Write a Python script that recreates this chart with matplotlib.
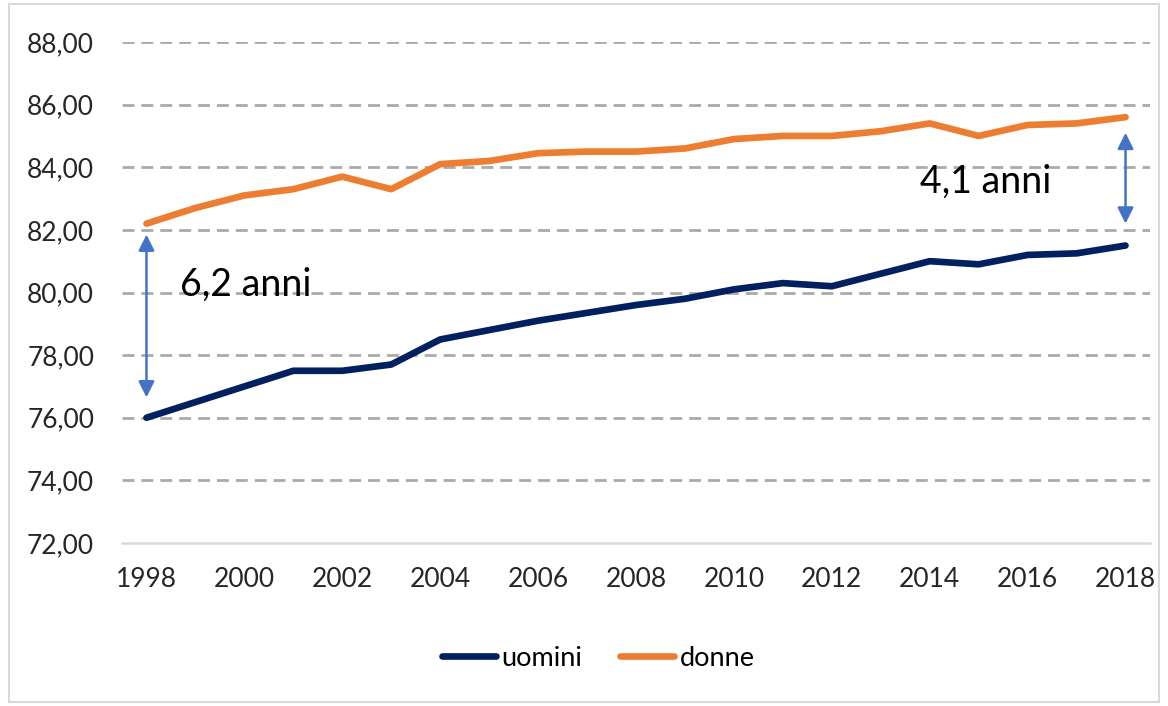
import matplotlib
matplotlib.use("Agg")
import matplotlib.pyplot as plt
from matplotlib.patches import Rectangle
from matplotlib.ticker import FuncFormatter

# speranza di vita alla nascita
anni = list(range(1998, 2019))
uomini = [76.0, 76.5, 77.0, 77.5, 77.5, 77.7, 78.5, 78.8, 79.1, 79.35, 79.6,
          79.8, 80.1, 80.3, 80.2, 80.6, 81.0, 80.9, 81.2, 81.25, 81.5]
donne = [82.2, 82.7, 83.1, 83.3, 83.7, 83.3, 84.1, 84.2, 84.45, 84.5, 84.5,
         84.6, 84.9, 85.0, 85.0, 85.15, 85.4, 85.0, 85.35, 85.4, 85.6]
x_ticks = list(range(1998, 2019, 2))
y_ticks = list(range(72, 89, 2))

# annotazioni sul divario
gap_left = (1998, 81.85, 76.65, "6,2 anni")
gap_right = (2018, 85.1, 82.2, "4,1 anni")

plt.rcParams['font.family'] = ['Lato', 'DejaVu Sans']

fig = plt.figure(figsize=(11.68, 7.06), dpi=100)
ax = fig.add_axes([122 / 1168, 1 - 543 / 706, 1028 / 1168, 501 / 706])

ax.plot(anni, uomini, color='#002060', lw=4.8, solid_capstyle='round', label='uomini')
ax.plot(anni, donne, color='#ED7D31', lw=4.8, solid_capstyle='round', label='donne')

ax.set_xlim(1997.5, 2018.5)
ax.set_ylim(72, 88)
ax.set_xticks(x_ticks)
ax.set_yticks(y_ticks)
ax.yaxis.set_major_formatter(FuncFormatter(lambda v, p: f"{v:.2f}".replace('.', ',')))

for y in y_ticks[1:]:
    ax.axhline(y, color='#AAAAAA', lw=2.0, dashes=(4.3, 2.5), zorder=0)

for s in ['top', 'right', 'left']:
    ax.spines[s].set_visible(False)
ax.spines['bottom'].set_color('#D9D9D9')
ax.spines['bottom'].set_linewidth(1.8)
ax.tick_params(length=0, labelsize=19, labelcolor='#262626')
ax.tick_params(axis='y', pad=20)
ax.tick_params(axis='x', pad=17)

for xa, ytop, ybot, txt in [gap_left, gap_right]:
    ax.annotate('', xy=(xa, ytop), xytext=(xa, ybot),
                arrowprops=dict(arrowstyle='<|-|>', color='#4472C4', lw=1.8,
                                mutation_scale=24, shrinkA=0, shrinkB=0))

ax.text(1998.68, 79.9, gap_left[3], fontsize=27, color='black')
ax.text(2013.8, 83.2, gap_right[3], fontsize=27, color='black')

fig.legend(loc='center', bbox_to_anchor=(598 / 1168, 1 - 658 / 706), ncol=2,
           frameon=False, fontsize=19.5, handlelength=2.0, handletextpad=0.2,
           columnspacing=1.4)

fig.patches.append(Rectangle((9 / 1168, 4 / 706), 1150 / 1168, 698 / 706,
                             transform=fig.transFigure, fill=False,
                             edgecolor='#D9D9D9', lw=1.5))

fig.savefig('out.png', dpi=100)
